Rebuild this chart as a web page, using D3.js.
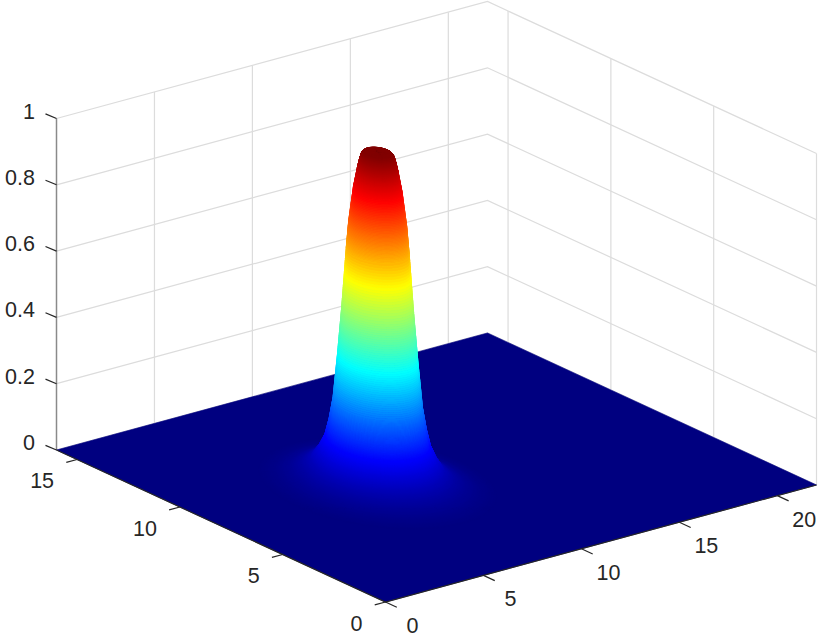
<!DOCTYPE html>
<html>
<head>
<meta charset="utf-8">
<script src="https://cdn.jsdelivr.net/npm/d3@7"></script>
<style>
html,body{margin:0;padding:0;background:#fff;}
svg{display:block;}
text{font-family:"Liberation Sans",Arial,Helvetica,sans-serif;font-size:21.5px;fill:#262626;}
</style>
</head>
<body>
<svg id="chart" width="822" height="635"></svg>
<script>
// ---- data ----
const xLimits = [0, 22];
const yLimits = [0, 16];
const zLimits = [0, 1];
const xTicks = [0, 5, 10, 15, 20];
const yTicks = [0, 5, 10, 15];
const zTicks = [0, 0.2, 0.4, 0.6, 0.8, 1];
const xTickLabels = ["0", "5", "10", "15", "20"];
const yTickLabels = ["0", "5", "10", "15"];
const zTickLabels = ["0", "0.2", "0.4", "0.6", "0.8", "1"];
const peakCentre = [8, 8];
// height of the bump against the distance from its centre
const peakRadius = [0, 0.5, 0.58, 0.65, 0.72, 0.86, 1.02, 1.11, 1.27, 1.42, 1.58, 1.72, 1.87, 2.1, 2.36, 2.7, 3.1, 3.6, 4.2];
const peakHeight = [1, 0.998, 0.99, 0.97, 0.945, 0.885, 0.785, 0.7, 0.52, 0.375, 0.24, 0.175, 0.125, 0.085, 0.055, 0.035, 0.02, 0.008, 0];
// jet colour map
const jetStops = [0, 0.125, 0.375, 0.625, 0.875, 1];
const jetColors = ["#000080", "#0000ff", "#00ffff", "#ffff00", "#ff0000", "#800000"];

// ---- projection through linear scales ----
const origin = [385.5, 602];
const xToPx = d3.scaleLinear().domain(xLimits).range([0, 431]);
const xToPy = d3.scaleLinear().domain(xLimits).range([0, -117]);
const yToPx = d3.scaleLinear().domain(yLimits).range([0, -329]);
const yToPy = d3.scaleLinear().domain(yLimits).range([0, -152]);
const zToPy = d3.scaleLinear().domain(zLimits).range([0, -331.5]);
const project = (x, y, z) => [
  origin[0] + xToPx(x) + yToPx(y),
  origin[1] + xToPy(x) + yToPy(y) + zToPy(z)
];
const jet = d3.scaleLinear().domain(jetStops).range(jetColors);
const heightAt = d3.scaleLinear().domain(peakRadius).range(peakHeight).clamp(true);

const svg = d3.select("#chart");
const line = d3.line();
const closed = d3.line().curve(d3.curveLinearClosed);
const gridColor = "#dcdcdc", inkColor = "#262626";
const [x0, x1] = xLimits, [y0, y1] = yLimits, [z0, z1] = zLimits;

// ---- back walls ----
const grid = svg.append("g").attr("fill", "none").attr("stroke", gridColor).attr("stroke-width", 1.2);
grid.selectAll(".zl").data(zTicks).join("path")
  .attr("d", z => line([project(x0, y1, z), project(x1, y1, z), project(x1, y0, z)]));
grid.selectAll(".xl").data(xTicks.filter(v => v > 0)).join("path")
  .attr("d", v => line([project(v, y1, z0), project(v, y1, z1)]));
grid.selectAll(".yl").data(yTicks).join("path")
  .attr("d", v => line([project(x1, v, z0), project(x1, v, z1)]));

// ---- z axis ----
svg.append("path").attr("fill", "none").attr("stroke", "#8a8a8a").attr("stroke-width", 1.5)
  .attr("d", line([project(x0, y1, z0), project(x0, y1, z1)]));

// ---- flat part of the surface ----
svg.append("path").attr("fill", jet(0)).attr("stroke", jet(0)).attr("stroke-width", 0.6)
  .attr("d", closed([project(x0, y0, 0), project(x1, y0, 0), project(x1, y1, 0), project(x0, y1, 0)]));

// ---- bump: interpolated shading between the profile readings ----
const subSteps = 22, arcSteps = 48;
const rings = [];
peakRadius.slice(1).forEach((r, i) => {
  const a = peakRadius[i];
  d3.range(subSteps).forEach(k => rings.push([a + (r - a) * k / subSteps, a + (r - a) * (k + 1) / subSteps]));
});
const viewAngle = Math.atan2(-yToPx(y1) / (y1 - y0), xToPx(x1) / (x1 - x0));
const band = (rIn, rOut, startAngle) => {
  const angles = d3.range(arcSteps + 1).map(k => startAngle + Math.PI * k / arcSteps);
  const zIn = heightAt(rIn), zOut = heightAt(rOut);
  const at = (r, z, t) => project(peakCentre[0] + r * Math.cos(t), peakCentre[1] + r * Math.sin(t), z);
  return closed(angles.map(t => at(rOut, zOut, t)).concat(angles.slice().reverse().map(t => at(rIn, zIn, t))));
};
const surface = svg.append("g").attr("stroke-width", 0.7).attr("stroke-linejoin", "round");
const drawBand = (ring, startAngle) => {
  const c = jet((heightAt(ring[0]) + heightAt(ring[1])) / 2);
  surface.append("path").attr("fill", c).attr("stroke", c).attr("d", band(ring[0], ring[1], startAngle));
};
// far half from the outside in, near half from the inside out
rings.slice().reverse().forEach(ring => drawBand(ring, viewAngle - Math.PI / 2));
rings.forEach(ring => drawBand(ring, viewAngle + Math.PI / 2));

// ---- axes ----
const axes = svg.append("g").attr("fill", "none").attr("stroke", inkColor).attr("stroke-width", 1.2);
axes.append("path").attr("d", line([project(x0, y1, z0), project(x0, y0, z0), project(x1, y0, z0)]));
const xTickLen = 0.55, yTickLen = 0.55, zTickDx = 11, zTickDy = 4.6;
axes.selectAll(".xt").data(xTicks).join("path")
  .attr("d", v => line([project(v, y0, z0), project(v, y0 - xTickLen, z0)]));
axes.selectAll(".yt").data(yTicks).join("path")
  .attr("d", v => line([project(x0, v, z0), project(x0 - yTickLen, v, z0)]));
axes.selectAll(".zt").data(zTicks).join("path")
  .attr("d", v => { const p = project(x0, y1, v); return line([p, [p[0] - zTickDx, p[1] - zTickDy]]); });

// ---- tick labels ----
const labels = svg.append("g");
labels.selectAll(".xlab").data(xTicks).join("text")
  .attr("text-anchor", "middle")
  .attr("x", v => project(v, y0, z0)[0] + 27)
  .attr("y", v => project(v, y0, z0)[1] + 31)
  .text((v, i) => xTickLabels[i]);
labels.selectAll(".ylab").data(yTicks).join("text")
  .attr("text-anchor", "end")
  .attr("x", v => project(x0, v, z0)[0] - 23)
  .attr("y", v => project(x0, v, z0)[1] + 28.5)
  .text((v, i) => yTickLabels[i]);
labels.selectAll(".zlab").data(zTicks).join("text")
  .attr("text-anchor", "end")
  .attr("x", 35)
  .attr("y", v => project(x0, y1, v)[1] + 0)
  .text((v, i) => zTickLabels[i]);
</script>
</body>
</html>
